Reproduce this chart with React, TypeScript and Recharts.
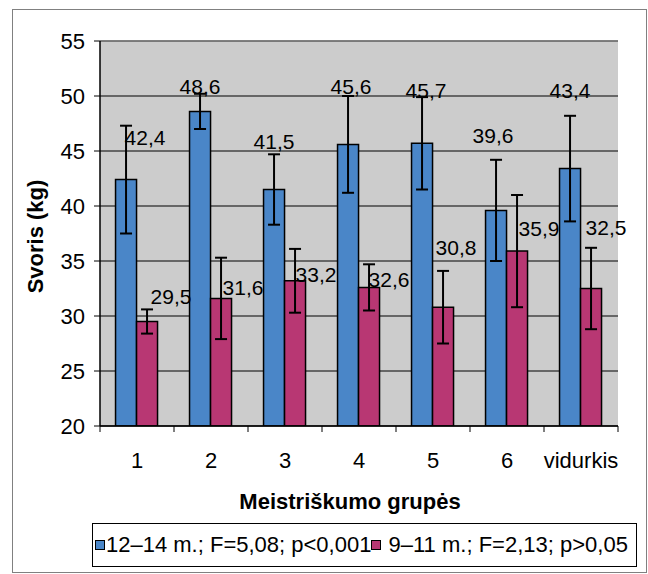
import {
  BarChart, Bar, XAxis, YAxis, CartesianGrid, ErrorBar, LabelList, ReferenceLine,
} from 'recharts';

// Meistriškumo grupės (weight in kg, mean ± sd)
const GROUPS = ['1', '2', '3', '4', '5', '6', 'vidurkis'];
const OLDER = [42.4, 48.6, 41.5, 45.6, 45.7, 39.6, 43.4];
const OLDER_SD = [4.9, 1.6, 3.2, 4.4, 4.2, 4.6, 4.8];
const YOUNGER = [29.5, 31.6, 33.2, 32.6, 30.8, 35.9, 32.5];
const YOUNGER_SD = [1.1, 3.7, 2.9, 2.1, 3.3, 5.1, 3.7];
const Y_TICKS = [20, 25, 30, 35, 40, 45, 50, 55];

const OLDER_NAME = '12–14 m.; F=5,08; p<0,001';
const YOUNGER_NAME = '9–11 m.; F=2,13; p>0,05';

const BLUE = '#4A86C8';
const PINK = '#B83773';
const FONT = 'Arial, "Liberation Sans", sans-serif';

// value labels were dragged by hand in the original; nudge (px) from the bar top centre
const OLDER_NUDGE = [[19, -42], [0, -25], [0, -48], [3, -58], [4, -53], [-3, -75], [0, -78]];
const YOUNGER_NUDGE = [[24, -25], [22, -11], [21, -6], [20, -8], [13, -60], [22, -22], [15, -61]];

const TICK_SIZE = 6;
const TICK_MARGIN = 20;
const MARGIN = { top: 41, right: 30, bottom: 118, left: 40 };
const Y_AXIS_W = 60;
const CHART_W = 648;
const CHART_H = 574;
const BAND = (CHART_W - MARGIN.left - MARGIN.right - Y_AXIS_W) / GROUPS.length;

const data = GROUPS.map((g, i) => ({
  group: g,
  older: OLDER[i],
  olderSd: OLDER_SD[i],
  younger: YOUNGER[i],
  youngerSd: YOUNGER_SD[i],
}));

const fmt = (v: number) => v.toFixed(1).replace('.', ',');

function nudgedLabel(nudge: number[][]) {
  return (props: any) => {
    const vb = props.viewBox ?? props;
    const { index, value } = props;
    const [dx, dy] = nudge[index] ?? [0, -20];
    const cx = vb.x + vb.width / 2 + dx;
    const cy = vb.y + dy;
    return (
      <text x={cx} y={cy} dy="0.35em" textAnchor="middle" fontSize={21} fontFamily={FONT} fill="#000">
        {fmt(Number(value))}
      </text>
    );
  };
}

function GroupTick(props: any) {
  const { x, y, payload, index } = props;
  const axisY = y - TICK_SIZE - TICK_MARGIN;
  const last = index === GROUPS.length - 1;
  return (
    <g>
      <line x1={x - BAND / 2} y1={axisY} x2={x - BAND / 2} y2={axisY + TICK_SIZE} stroke="#000" />
      {last && <line x1={x + BAND / 2} y1={axisY} x2={x + BAND / 2} y2={axisY + TICK_SIZE} stroke="#000" />}
      <text x={x} y={y} dy="0.71em" textAnchor="middle" fontSize={22} fontFamily={FONT} fill="#000">
        {payload.value}
      </text>
    </g>
  );
}

function Swatch({ color }: { color: string }) {
  return (
    <span style={{
      display: 'inline-block', width: 10, height: 10, background: color,
      border: '1px solid #000', boxSizing: 'border-box', marginRight: 1,
    }} />
  );
}

export default function App() {
  return (
    <div style={{ position: 'absolute', left: 0, top: 0, width: CHART_W, height: CHART_H, background: '#fff', fontFamily: FONT }}>
      <div style={{
        position: 'absolute', left: 12, top: 9, width: 635, height: 564,
        border: '1px solid #808080', boxSizing: 'border-box',
      }} />
      <BarChart
        width={CHART_W}
        height={CHART_H}
        data={data}
        margin={MARGIN}
        barCategoryGap="21%"
        barGap={0}
        style={{ position: 'absolute', left: 0, top: 0 }}
      >
        <CartesianGrid vertical={false} stroke="#000" fill="#CCCCCC" fillOpacity={1} />
        <XAxis
          dataKey="group"
          height={30}
          tickSize={TICK_SIZE}
          tickMargin={TICK_MARGIN}
          tickLine={false}
          axisLine={{ stroke: '#000', strokeWidth: 1.5 }}
          tick={<GroupTick />}
          interval={0}
          label={({ viewBox }: any) => (
            <text x={viewBox.x + viewBox.width / 2 - 9} y={viewBox.y + 75} dy="0.35em" textAnchor="middle"
              fontSize={22} fontWeight="bold" fontFamily={FONT} fill="#000">
              Meistriškumo grupės
            </text>
          )}
        />
        <YAxis
          domain={[20, 55]}
          ticks={Y_TICKS}
          width={Y_AXIS_W}
          tickSize={TICK_SIZE}
          tickMargin={9}
          axisLine={{ stroke: '#000', strokeWidth: 1.5 }}
          tickLine={{ stroke: '#000' }}
          tick={{ fontSize: 22, fill: '#000', fontFamily: FONT }}
          allowDataOverflow
          label={({ viewBox }: any) => {
            const cx = viewBox.x - 5;
            const cy = viewBox.y + viewBox.height / 2 + 3;
            return (
              <text x={cx} y={cy} dy="0.35em" textAnchor="middle" transform={`rotate(-90 ${cx} ${cy})`}
                fontSize={22} fontWeight="bold" fontFamily={FONT} fill="#000">
                Svoris (kg)
              </text>
            );
          }}
        />
        <YAxis
          yAxisId="frame"
          orientation="right"
          width={0}
          domain={[20, 55]}
          tick={false}
          tickLine={false}
          axisLine={{ stroke: '#808080', strokeWidth: 1.5 }}
        />
        <ReferenceLine y={55} stroke="#808080" strokeWidth={1.5} />
        <Bar dataKey="older" name={OLDER_NAME} fill={BLUE} stroke="#000" strokeWidth={1.5} isAnimationActive={false}>
          <ErrorBar dataKey="olderSd" direction="y" width={6} stroke="#000" strokeWidth={2} />
          <LabelList dataKey="older" content={nudgedLabel(OLDER_NUDGE)} />
        </Bar>
        <Bar dataKey="younger" name={YOUNGER_NAME} fill={PINK} stroke="#000" strokeWidth={1.5} isAnimationActive={false}>
          <ErrorBar dataKey="youngerSd" direction="y" width={6} stroke="#000" strokeWidth={2} />
          <LabelList dataKey="younger" content={nudgedLabel(YOUNGER_NUDGE)} />
        </Bar>
      </BarChart>
      <div style={{
        position: 'absolute', left: 92, top: 523, width: 545, height: 44,
        border: '1px solid #000', boxSizing: 'border-box',
        display: 'flex', alignItems: 'center', paddingLeft: 2,
        fontSize: 22, color: '#000', whiteSpace: 'nowrap',
      }}>
        <Swatch color={BLUE} />
        <span>{OLDER_NAME}</span>
        <Swatch color={PINK} />
        <span>&nbsp;{YOUNGER_NAME}</span>
      </div>
    </div>
  );
}
